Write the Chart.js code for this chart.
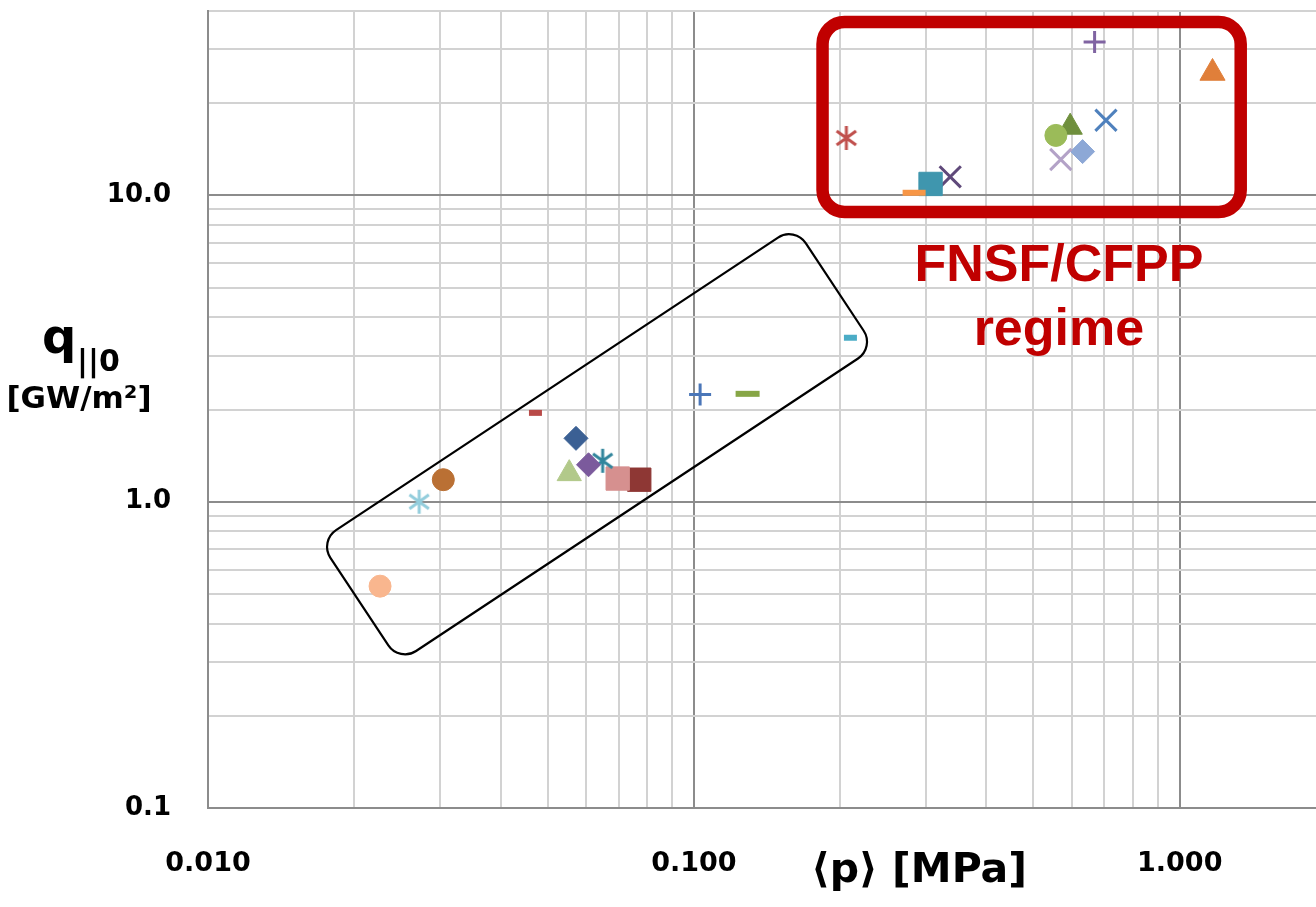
<!DOCTYPE html>
<html>
<head>
<meta charset="utf-8">
<script src="https://cdn.jsdelivr.net/npm/chart.js@4.4.1/dist/chart.umd.min.js"></script>
<style>
  html, body { margin: 0; padding: 0; background: #fff; overflow: hidden; }
  #wrap { width: 1330px; height: 907px; }
</style>
</head>
<body>
<div id="wrap"><canvas id="regimeChart" width="1330" height="907"></canvas></div>
<script>
// values: volume averaged pressure <p> [MPa] vs q||0 [GW/m2]
const seriesLabels = ['S1', 'S2', 'S3', 'S4', 'S5', 'S6', 'S7', 'S8', 'S9', 'S10', 'S11', 'S12',
                      'S13', 'S14', 'S15', 'S16', 'S17', 'S18', 'S19', 'S20', 'S21', 'S22', 'S23', 'S24'];
const pressure = [0.0226, 0.0272, 0.0305, 0.0472, 0.0554, 0.0572, 0.0607, 0.0649, 0.0697, 0.0772, 0.103, 0.129,
                  0.210, 0.206, 0.284, 0.307, 0.337, 0.556, 0.569, 0.595, 0.631, 0.668, 0.705, 1.168];
const heatFlux = [0.53, 1.00, 1.18, 1.95, 1.235, 1.61, 1.32, 1.36, 1.19, 1.18, 2.24, 2.25,
                  3.43, 15.4, 10.2, 10.9, 11.5, 15.7, 13.1, 16.7, 13.9, 31.7, 17.6, 25.1];

const xTickValues = [0.01, 0.1, 1];
const xTickLabels = ['0.010', '0.100', '1.000'];
const yTickValues = [0.1, 1, 10];
const yTickLabels = ['0.1', '1.0', '10.0'];

// marker look for each series (same order as above)
const markerStyles = [
  ['circle', '#F9B68E', 11], ['asterisk', '#92CDDC', 12], ['circle', '#BA7034', 11], ['dash', '#B94A48', 6.5],
  ['triangle', '#B2C98A', 14], ['diamond', '#3B6094', 12], ['diamond', '#7B5A9C', 12], ['asterisk', '#31859C', 12],
  ['square', '#D6908F', 16.5], ['square', '#8E3734', 16.5], ['plus', '#4A76B8', 11], ['dash', '#87A646', 12],
  ['dash', '#4BACC6', 6.5], ['asterisk', '#C0504D', 12], ['dash', '#F79646', 11.5], ['square', '#3F96AE', 16.5],
  ['x', '#5F497A', 15], ['circle', '#9BBB59', 11], ['x', '#B3A2C7', 15], ['triangle', '#6F8F3D', 14],
  ['diamond', '#8DA8D6', 12], ['plus', '#8064A2', 11], ['x', '#4F81BD', 15], ['triangle', '#E07F3A', 14.5]
];

function makeAsterisk(color, r) {
  const c = document.createElement('canvas');
  c.width = c.height = Math.ceil(r * 2 + 6);
  const g = c.getContext('2d');
  const m = c.width / 2;
  g.strokeStyle = color;
  g.lineWidth = 3;
  g.beginPath();
  g.moveTo(m, m - r); g.lineTo(m, m + r);
  const a = 36 * Math.PI / 180;
  g.moveTo(m - r * Math.cos(a), m - r * Math.sin(a)); g.lineTo(m + r * Math.cos(a), m + r * Math.sin(a));
  g.moveTo(m - r * Math.cos(a), m + r * Math.sin(a)); g.lineTo(m + r * Math.cos(a), m - r * Math.sin(a));
  g.stroke();
  return c;
}

const shapeMap = { circle: 'circle', triangle: 'triangle', diamond: 'rectRot', square: 'rect',
                   plus: 'cross', x: 'crossRot', dash: 'line' };

const datasets = seriesLabels.map((name, i) => {
  const [shape, color, size] = markerStyles[i];
  const outline = shape === 'plus' || shape === 'x' || shape === 'dash';
  return {
    label: name,
    data: [{ x: pressure[i], y: heatFlux[i] }],
    pointStyle: shape === 'asterisk' ? makeAsterisk(color, size) : shapeMap[shape],
    pointRadius: size,
    backgroundColor: color,
    borderColor: color,
    borderWidth: shape === 'dash' ? 6 : (outline ? 3 : 1),
    showLine: false
  };
});

function gridValues(lo, hi) {
  const vals = [];
  for (let e = lo; e < hi; e++) {
    for (let m = 1; m <= 9; m++) vals.push(+(m * Math.pow(10, e)).toPrecision(3));
  }
  return vals;
}

function isDecade(v) {
  const l = Math.log10(v);
  return Math.abs(l - Math.round(l)) < 1e-6;
}

function pickLabel(v, values, labels) {
  for (let i = 0; i < values.length; i++) {
    if (Math.abs(v - values[i]) / values[i] < 1e-6) return labels[i];
  }
  return '';
}

// the tick padding should only move labels, not shrink the plot
function noScalePadding(axis) {
  axis.paddingTop = axis.paddingBottom = axis.paddingLeft = axis.paddingRight = 0;
}

// boxes and labels drawn on top of the grid
const boxRed = { x0: 0.184, x1: 1.335, y0: 8.83, y1: 36.8 };
const boxBlack = { cx: 0.0632, cy: 1.54, w: 570, h: 145, angle: -33.5 };
const regimeText = [['FNSF/CFPP', 0.564, 5.24], ['regime', 0.564, 3.26]];

const overlayPlugin = {
  id: 'overlay',
  beforeDatasetsDraw(chart) {
    const { ctx, scales: { x, y } } = chart;
    ctx.save();
    // red regime box
    const l = x.getPixelForValue(boxRed.x0), r = x.getPixelForValue(boxRed.x1);
    const t = y.getPixelForValue(boxRed.y1), b = y.getPixelForValue(boxRed.y0);
    ctx.strokeStyle = '#C00000';
    ctx.lineWidth = 12.5;
    ctx.beginPath();
    ctx.roundRect(l, t, r - l, b - t, 22);
    ctx.stroke();

    // black rotated box round the experiments
    ctx.translate(x.getPixelForValue(boxBlack.cx), y.getPixelForValue(boxBlack.cy));
    ctx.rotate(boxBlack.angle * Math.PI / 180);
    ctx.strokeStyle = '#000';
    ctx.lineWidth = 2.2;
    ctx.beginPath();
    ctx.roundRect(-boxBlack.w / 2, -boxBlack.h / 2, boxBlack.w, boxBlack.h, 20);
    ctx.stroke();
    ctx.restore();

    ctx.save();
    ctx.fillStyle = '#C00000';
    ctx.font = 'bold 52px "Liberation Sans", Arial, sans-serif';
    ctx.textAlign = 'center';
    ctx.textBaseline = 'alphabetic';
    regimeText.forEach(([txt, vx, vy]) => {
      ctx.fillText(txt, x.getPixelForValue(vx), y.getPixelForValue(vy));
    });
    ctx.restore();
  },
  afterDraw(chart) {
    const { ctx } = chart;
    ctx.save();
    ctx.fillStyle = '#000';
    ctx.textBaseline = 'alphabetic';
    // y axis title
    ctx.textAlign = 'left';
    ctx.font = 'bold 48px "DejaVu Sans", sans-serif';
    ctx.fillText('q', 42, 353);
    ctx.font = 'bold 30px "DejaVu Sans", sans-serif';
    ctx.fillText('||0', 77, 371);
    ctx.textAlign = 'center';
    ctx.font = 'bold 31px "DejaVu Sans", sans-serif';
    ctx.fillText('[GW/m²]', 79, 408);
    // x axis title
    ctx.font = 'bold 41px "DejaVu Sans", sans-serif';
    ctx.fillText('⟨p⟩ [MPa]', 919, 882);
    ctx.restore();
  }
};

const gridColor = (c) => (c.tick && isDecade(c.tick.value)) ? '#8C8C8C' : '#D2D2D2';

new Chart(document.getElementById('regimeChart'), {
  type: 'scatter',
  data: { datasets },
  options: {
    responsive: false,
    animation: false,
    events: [],
    // the original is cut off just left of x = 2, so the plot runs past the window edge
    layout: { autoPadding: false, padding: { top: 11, right: 4, left: 0, bottom: 0 } },
    plugins: { legend: { display: false }, tooltip: { enabled: false } },
    scales: {
      x: {
        type: 'logarithmic',
        min: 0.01,
        max: 2,
        afterBuildTicks: (axis) => { axis.ticks = gridValues(-2, 0).concat([1, 2]).map(v => ({ value: v })); },
        afterFit: (axis) => { axis.height = 99; noScalePadding(axis); },
        grid: { color: gridColor, lineWidth: 2, drawTicks: false },
        border: { display: true, color: '#8C8C8C', width: 2 },
        ticks: {
          autoSkip: false,
          maxRotation: 0,
          padding: 40,
          color: '#000',
          font: { family: '"DejaVu Sans", sans-serif', size: 27, weight: 'bold' },
          callback: (v) => pickLabel(v, xTickValues, xTickLabels)
        }
      },
      y: {
        type: 'logarithmic',
        min: 0.1,
        max: 40,
        afterBuildTicks: (axis) => { axis.ticks = gridValues(-1, 1).concat([10, 20, 30, 40]).map(v => ({ value: v })); },
        afterFit: (axis) => { axis.width = 208; noScalePadding(axis); },
        grid: { color: gridColor, lineWidth: 2, drawTicks: false },
        border: { display: true, color: '#8C8C8C', width: 2 },
        ticks: {
          autoSkip: false,
          padding: 37,
          color: '#000',
          font: { family: '"DejaVu Sans", sans-serif', size: 26, weight: 'bold' },
          callback: (v) => pickLabel(v, yTickValues, yTickLabels)
        }
      }
    }
  },
  plugins: [overlayPlugin]
});
</script>
</body>
</html>
